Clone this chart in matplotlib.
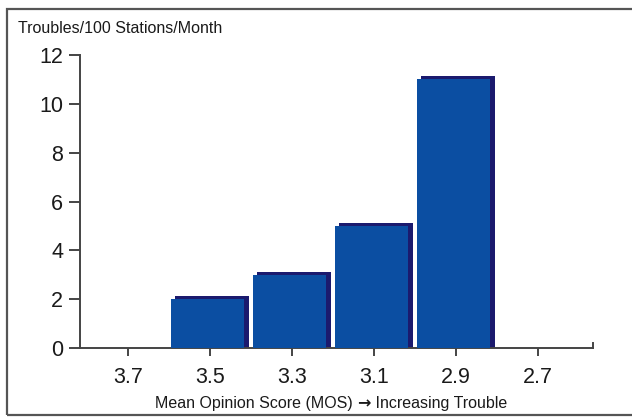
import matplotlib
matplotlib.use("Agg")
import matplotlib.pyplot as plt
from matplotlib.patches import Rectangle

categories = ["3.7", "3.5", "3.3", "3.1", "2.9", "2.7"]
values = [0, 2, 3, 5, 11, 0]
yticks = [0, 2, 4, 6, 8, 10, 12]
title = "Troubles/100 Stations/Month"
xlabel_parts = ["Mean Opinion Score (MOS) ", "\u2192", " Increasing Trouble"]

FONT = ["Liberation Sans", "DejaVu Sans"]
plt.rcParams["font.family"] = FONT

W, H = 632, 417
fig = plt.figure(figsize=(W / 100, H / 100), dpi=100)
fig.patch.set_facecolor("white")

# outer frame
fig.add_artist(Rectangle((7 / W, 2 / H), 1.2, (H - 11) / H, transform=fig.transFigure,
                         fill=False, edgecolor="#555555", linewidth=1.6))

ax = fig.add_axes([80 / W, (H - 348) / H, (593 - 80) / W, (348 - 55) / H])
ax.set_xlim((80 - 128) / 82, (593 - 128) / 82)
ax.set_ylim(0, 12)

blue = "#0b4ea2"
dark = "#1b1a6e"
w = 0.9
dx = 0.055
dy = 0.13
xs = list(range(len(categories)))
for x, v in zip(xs, values):
    if v <= 0:
        continue
    ax.bar(x - 0.03 + dx, v + dy, width=w, color=dark, linewidth=0, zorder=2)
    ax.bar(x - 0.03, v, width=w, color=blue, linewidth=0, zorder=3)

ax.spines["top"].set_visible(False)
spc = "#444444"
for s in ["left", "bottom", "right"]:
    ax.spines[s].set_color(spc)
    ax.spines[s].set_linewidth(1.4)
ax.spines["right"].set_bounds(0, 0.22)
ax.spines["left"].set_bounds(0, 12)

ax.set_xticks(xs)
ax.set_xticklabels(categories)
ax.set_yticks(yticks)
ax.tick_params(axis="x", direction="out", length=6, width=1.4, color=spc, pad=8,
               labelsize=15.5, labelcolor="#1a1a1a")
ax.tick_params(axis="y", direction="out", length=8, width=1.4, color=spc, pad=4,
               labelsize=15.5, labelcolor="#1a1a1a")
ax.set_facecolor("white")

fig.text(18 / W, 1 - 33 / H, title, ha="left", va="baseline", fontsize=11.5,
         color="#1a1a1a", family=FONT)

# x label assembled from pieces so the arrow can be drawn bolder
renderer = fig.canvas.get_renderer()
fams = [FONT, ["DejaVu Sans"], FONT]
weights = ["normal", "bold", "normal"]
texts = []
for part, fam, wt in zip(xlabel_parts, fams, weights):
    t = fig.text(0, 1 - 408 / H, part, ha="left", va="baseline", fontsize=11.5,
                 color="#1a1a1a", family=fam, weight=wt)
    texts.append(t)
widths = [t.get_window_extent(renderer).width for t in texts]
total = sum(widths)
xcur = 331 - total / 2
for t, wd in zip(texts, widths):
    t.set_x(xcur / W)
    xcur += wd

fig.savefig("out.png", dpi=100, facecolor="white")
